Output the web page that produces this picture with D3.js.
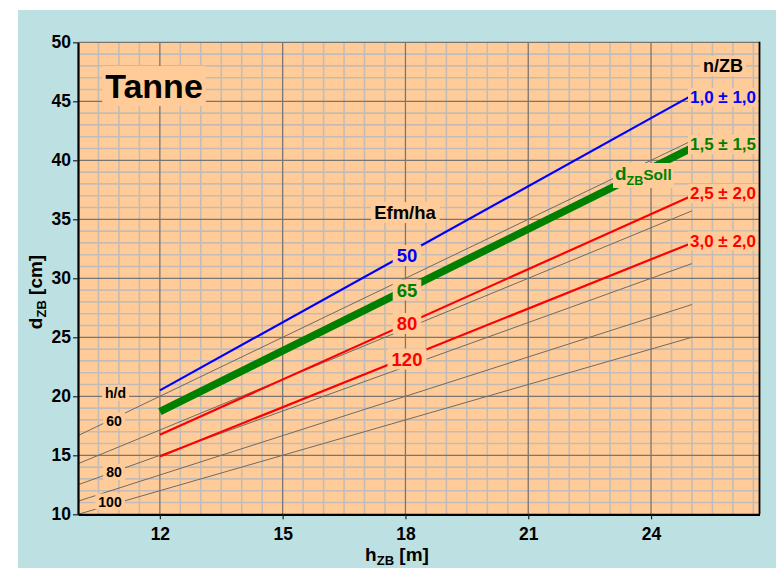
<!DOCTYPE html>
<html><head><meta charset="utf-8">
<script src="https://cdn.jsdelivr.net/npm/d3@7"></script>
<style>
html,body{margin:0;padding:0;background:#fff;}
svg{display:block;font-family:"Liberation Sans",Arial,Helvetica,sans-serif;font-weight:bold;}
</style></head><body>
<svg id="c" width="784" height="568"></svg>
<script>
// ---- data ----
const xTicks = [12, 15, 18, 21, 24];
const yTicks = [10, 15, 20, 25, 30, 35, 40, 45, 50];
const heights = [12, 25];                 // h_ZB [m], start/end of the curves
const dBlue   = [20.5, 45.5];             // n/ZB 1,0 ± 1,0  (50 Efm/ha)
const dGreen  = [18.7, 41.05];            // d_ZB Soll       (65 Efm/ha)
const dRed1   = [16.75, 37.0];            // n/ZB 2,5 ± 2,0  (80 Efm/ha)
const dRed2   = [14.9, 33.0];             // n/ZB 3,0 ± 2,0  (120 Efm/ha)
const hdValues = [60, 70, 80, 90, 100];   // h/d ratio lines
const hdRange  = [10, 25];
const seriesLabels = ["1,0 ± 1,0", "1,5 ± 1,5", "2,5 ± 2,0", "3,0 ± 2,0"];
const efmLabels = ["50", "65", "80", "120"];
const hdLabels = ["60", "80", "100"];

const svg = d3.select("#c");
const PEACH = "#ffcc99", BLUEBG = "#bde0e3";

const x = d3.scaleLinear().domain([10, 26.65]).range([78, 759.5]);
const y = d3.scaleLinear().domain([10, 50]).range([514.3, 42.3]);

svg.append("rect").attr("x", 18).attr("y", 10).attr("width", 758).attr("height", 558).attr("fill", BLUEBG);
svg.append("rect").attr("x", x(10)).attr("y", y(50)).attr("width", x(26.65) - x(10)).attr("height", y(10) - y(50)).attr("fill", PEACH);

const g = svg.append("g");
// minor grid
const minorX = d3.range(10.5, 26.6, 0.5).filter(v => Math.abs(v / 3 - Math.round(v / 3)) > 1e-6);
const minorY = d3.range(11, 50, 1).filter(v => v % 5 !== 0);
g.selectAll(".mx").data(minorX).join("line")
  .attr("x1", d => x(d)).attr("x2", d => x(d)).attr("y1", y(10)).attr("y2", y(50))
  .attr("stroke", "#c4bcb4").attr("stroke-width", 1.6);
g.selectAll(".my").data(minorY).join("line")
  .attr("x1", x(10)).attr("x2", x(26.65)).attr("y1", d => y(d)).attr("y2", d => y(d))
  .attr("stroke", "#c4bcb4").attr("stroke-width", 1.6);
// major grid
g.selectAll(".Mx").data(xTicks).join("line")
  .attr("x1", d => x(d)).attr("x2", d => x(d)).attr("y1", y(10)).attr("y2", y(50))
  .attr("stroke", "#7a7570").attr("stroke-width", 1.3);
g.selectAll(".My").data(yTicks.filter(v => v > 10)).join("line")
  .attr("x1", x(10)).attr("x2", x(26.65)).attr("y1", d => y(d)).attr("y2", d => y(d))
  .attr("stroke", "#7a7570").attr("stroke-width", 1.3);

// h/d lines
const line = d3.line().x(d => x(d[0])).y(d => y(d[1]));
g.selectAll(".hd").data(hdValues).join("path")
  .attr("d", hd => line(hdRange.map(h => [h, h * 100 / hd])))
  .attr("fill", "none").attr("stroke", "#6e6a66").attr("stroke-width", 1);

// series
const series = [
  {d: dBlue, c: "#0000ff", w: 2.2},
  {d: dGreen, c: "#008000", w: 7.5},
  {d: dRed1, c: "#ff0000", w: 2.2},
  {d: dRed2, c: "#ff0000", w: 2.2}
];
g.selectAll(".s").data(series).join("path")
  .attr("d", s => line(heights.map((h, i) => [h, s.d[i]])))
  .attr("fill", "none").attr("stroke", s => s.c).attr("stroke-width", s => s.w);

// right border
svg.append("line").attr("x1", x(26.65)).attr("x2", x(26.65)).attr("y1", y(50) - 0.5).attr("y2", y(10))
  .attr("stroke", "#000").attr("stroke-width", 1.8);

// axes
const ax = svg.append("g").attr("transform", `translate(0,${y(10)})`)
  .call(d3.axisBottom(x).tickValues(xTicks).tickSize(5).tickSizeOuter(0).tickPadding(5));
const ay = svg.append("g").attr("transform", `translate(${x(10)},0)`)
  .call(d3.axisLeft(y).tickValues(yTicks).tickSize(5).tickSizeOuter(0).tickPadding(2));
[ax, ay].forEach(a => {
  a.select(".domain").attr("stroke", "#000").attr("stroke-width", 2.2);
  a.selectAll(".tick line").attr("stroke", "#222").attr("stroke-width", 1.2);
  a.selectAll("text").attr("font-family", '"Liberation Sans",Arial,sans-serif')
    .attr("font-weight", "bold").attr("font-size", 17.5).attr("fill", "#000");
});
ax.selectAll("text").attr("dy", "0.9em");

// axis titles
const xt = svg.append("text").attr("x", 397).attr("y", 561).attr("text-anchor", "middle").attr("font-size", 19).attr("fill", "#000");
xt.append("tspan").text("h");
xt.append("tspan").attr("font-size", 13).attr("dy", 4).text("ZB");
xt.append("tspan").attr("dy", -4).text(" [m]");
const yt = svg.append("text").attr("transform", "translate(42,292) rotate(-90)").attr("text-anchor", "middle").attr("font-size", 19).attr("fill", "#000");
yt.append("tspan").text("d");
yt.append("tspan").attr("font-size", 13).attr("dy", 4).text("ZB");
yt.append("tspan").attr("dy", -4).text(" [cm]");

// labels with peach boxes
const lab = svg.append("g");
function label(txt, lx, ly, size, color, anchor, padX, padY) {
  const gg = lab.append("g");
  const r = gg.append("rect").attr("fill", PEACH);
  const t = gg.append("text").attr("x", lx).attr("y", ly).attr("text-anchor", anchor || "middle")
    .attr("font-size", size).attr("fill", color).text(txt);
  const b = t.node().getBBox();
  const px = padX == null ? 3 : padX, py = padY == null ? 0 : padY;
  r.attr("x", b.x - px).attr("y", b.y - py).attr("width", b.width + 2 * px).attr("height", b.height + 2 * py);
  return t;
}
label("Tanne", 154, 98, 34, "#000", "middle", 3, 1);
label("n/ZB", 723, 72, 18, "#000");
const rightCol = ["#0000ff", "#008000", "#ff0000", "#ff0000"];
const rightY = [103, 150, 199, 246.5];
seriesLabels.forEach((s, i) => label(s, 690, rightY[i], 17, rightCol[i], "start", 2));
label("Efm/ha", 405, 219, 18.5, "#000");
const efmY = [262, 296.5, 330, 365.5];
efmLabels.forEach((s, i) => label(s, 407, efmY[i], 18.5, rightCol[i], "middle", 4));
label("h/d", 115.5, 398, 14, "#000");
const hdY = [425.5, 477, 506.5];
const hdX = [114, 114, 110];
hdLabels.forEach((s, i) => label(s, hdX[i], hdY[i], 14, "#000", "middle", 3));

// d_ZB Soll label
{
  const gg = lab.append("g");
  const r = gg.append("rect").attr("fill", PEACH);
  const t = gg.append("text").attr("x", 615).attr("y", 180).attr("fill", "#008000").attr("font-size", 19);
  t.append("tspan").text("d");
  t.append("tspan").attr("font-size", 12.5).attr("dy", 5).text("ZB");
  t.append("tspan").attr("font-size", 15.5).attr("dy", -5).text("Soll");
  const b = t.node().getBBox();
  r.attr("x", b.x - 2).attr("y", b.y).attr("width", b.width + 4).attr("height", b.height);
}
</script>
</body></html>
